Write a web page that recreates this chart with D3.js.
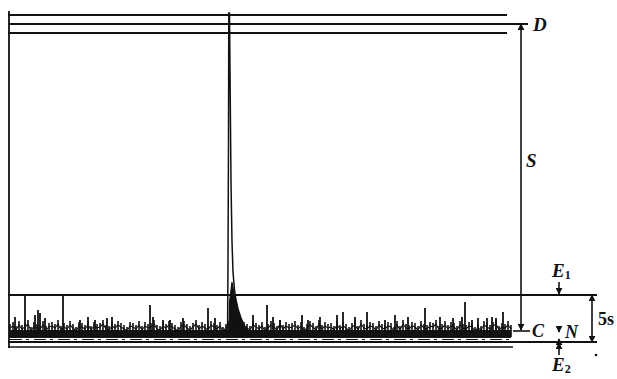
<!DOCTYPE html>
<html>
<head>
<meta charset="utf-8">
<script src="https://cdn.jsdelivr.net/npm/d3@7"></script>
<style>
  body { margin: 0; background: #fff; }
  svg { display: block; }
  .lbl { font-family: "Liberation Serif", "DejaVu Serif", serif; font-style: italic; font-weight: bold; fill: #111; }
</style>
</head>
<body>
<div id="chart"></div>
<script>
const levels = { top: 327, D: 318, low: 309, E1: 47, C: 11, E2: 0, under: -5 };

// noise trace, one value every 3 channels
const noise = [18,20,16,21,17,19,22,15,20,18,17,21,16,19,20,18,22,16,19,17,21,18,15,20,19,17,21,16,20,18,19,22,
  17,16,20,18,21,19,17,15,20,19,17,21,16,20,18,19,22,17,16,20,18,21,19,17,15,20,21,18,16,19,22,17,
  20,18,16,21,19,17,20,15,18,21,19,16,22,17,20,18,16,21,19,17,20,15,18,21,19,16,22,17,20,18,19,21,
  17,20,15,18,21,19,16,22,17,20,18,19,16,21,17,20,18,15,19,21,16,22,18,17,20,19,16,21,18,17,20,19,
  15,21,16,22,18,17,20,19,16,21,18,17,20,19,22,16,18,21,17,20,19,16,21,18,17,20,19,15,
  18,16,21,19,17,20,22,16,19,18,21,17];
const noiseStep = 3;

// tall noise spikes [channel, height]
const spikes = [[5,25],[15,47],[25,27],[28,32],[30,29],[35,24],[53,47],[70,22],[78,25],[85,22],
  [97,24],[102,25],[140,37],[143,25],[153,22],[160,22],[173,24],[198,34],[205,24],[243,27],
  [257,37],[263,25],[270,22],[292,27],[298,22],[310,25],[327,27],[333,30],[345,25],[357,30],
  [375,22],[385,27],[398,25],[415,34],[430,25],[443,24],[452,25],[455,40],[462,22],[468,24],
  [477,24],[482,25],[486,24],[493,30]];

// the big peak outline [channel, height]
const peak = [[217.5,5],[218,80],[218.5,200],[218.8,329],[219.5,329],[220.2,250],[221,160],
  [222,100],[223,70],[224.5,52],[226,42],[228,33],[231,24],[234,17],[238,11],[242,6]];
const peakTail = [[219,8],[219.5,40],[222,60],[224,48],[226.5,38],[229,28],[233,18],[238,10],[242,6]];

const W = 617, H = 379;
const svg = d3.select("#chart").append("svg").attr("width", W).attr("height", H);

const x = d3.scaleLinear().domain([0, 503]).range([10, 513]);
const y = d3.scaleLinear().domain([0, levels.D]).range([342, 24]);

const defs = svg.append("defs");
defs.append("marker").attr("id", "ah")
  .attr("viewBox", "0 0 10 10").attr("refX", 9).attr("refY", 5)
  .attr("markerWidth", 7).attr("markerHeight", 7).attr("markerUnits", "userSpaceOnUse")
  .attr("orient", "auto-start-reverse")
  .append("path").attr("d", "M0,0 L10,5 L0,10 Z").attr("fill", "#111");

const ink = "#111";

// horizontal level lines [level, from channel, to channel, width]
const hlines = [
  [levels.top, -2, 497, 1.8], [levels.D, -2, 518, 1.8], [levels.low, -2, 497, 1.8],
  [levels.E1, -2, 587, 1.8], [levels.C, 503, 520, 1.6],
  [levels.E2, -2, 587, 1.8], [levels.under, -2, 503, 1.6]
];
svg.append("g").selectAll("line").data(hlines).join("line")
  .attr("x1", d => x(d[1])).attr("x2", d => x(d[2]))
  .attr("y1", d => y(d[0])).attr("y2", d => y(d[0]))
  .attr("stroke", ink).attr("stroke-width", d => d[3]);

// left edge of the record
svg.append("line").attr("x1", x(-1)).attr("x2", x(-1))
  .attr("y1", y(331)).attr("y2", y(-6)).attr("stroke", ink).attr("stroke-width", 1.8);

// faint broken trace under the noise
svg.append("line").attr("x1", x(0)).attr("x2", x(503))
  .attr("y1", y(2.5)).attr("y2", y(2.5))
  .attr("stroke", ink).attr("stroke-width", 1).attr("stroke-dasharray", "12 4 3 5");

// dark core of the noise band
svg.append("path").datum(noise)
  .attr("d", d3.area().x((d, i) => x(i * noiseStep)).y0(y(4)).y1(y(12)))
  .attr("fill", "#161616");

// noise sticks
svg.append("g").selectAll("line").data(noise).join("line")
  .attr("x1", (d, i) => x(i * noiseStep)).attr("x2", (d, i) => x(i * noiseStep))
  .attr("y1", y(5)).attr("y2", d => y(d))
  .attr("stroke", ink).attr("stroke-width", 1.6);

// noise zigzag tops
svg.append("path").datum(noise)
  .attr("d", d3.line().x((d, i) => x(i * noiseStep)).y(d => y(d - 4)))
  .attr("fill", "none").attr("stroke", ink).attr("stroke-width", 1.1);

// spikes
svg.append("g").selectAll("line").data(spikes).join("line")
  .attr("x1", d => x(d[0])).attr("x2", d => x(d[0]))
  .attr("y1", y(8)).attr("y2", d => y(d[1]))
  .attr("stroke", ink).attr("stroke-width", 1.8);

// peak: outline plus dark foot
svg.append("path").datum(peakTail)
  .attr("d", d3.line().x(d => x(d[0])).y(d => y(d[1])))
  .attr("fill", ink).attr("stroke", ink).attr("stroke-width", 1.2);
svg.append("path").datum(peak)
  .attr("d", d3.line().x(d => x(d[0])).y(d => y(d[1])))
  .attr("fill", "none").attr("stroke", ink).attr("stroke-width", 1.5);

// annotation arrows [channel, from, to, both ends]
const arrows = [
  [511, levels.C + 1, levels.D, true],
  [549, 60, levels.E1 + 1, false],
  [549, levels.C + 4, levels.C - 1, false],
  [549, levels.E2 - 4, levels.E2 + 3, false],
  [549, -13, levels.E2 - 1, false],
  [582, levels.E2, levels.E1, true]
];
svg.append("g").selectAll("line").data(arrows).join("line")
  .attr("x1", d => x(d[0])).attr("x2", d => x(d[0]))
  .attr("y1", d => y(d[1])).attr("y2", d => y(d[2]))
  .attr("stroke", ink).attr("stroke-width", 1.6)
  .attr("marker-end", "url(#ah)")
  .attr("marker-start", d => d[3] ? "url(#ah)" : null);

// labels
const labels = [
  { t: "D", ch: 523, h: levels.D, size: 19 },
  { t: "S", ch: 516, h: 182, size: 19 },
  { t: "C", ch: 522, h: levels.C, size: 18 },
  { t: "N", ch: 555, h: levels.C - 1, size: 18 }
];
svg.append("g").selectAll("text").data(labels).join("text")
  .attr("class", "lbl")
  .attr("x", d => x(d.ch)).attr("y", d => y(d.h))
  .attr("dy", "0.35em")
  .attr("font-size", d => d.size)
  .text(d => d.t);

const subs = [{ t: "E", s: "1", ch: 542, h: 65 }, { t: "E", s: "2", ch: 542, h: -29 }];
const st = svg.append("g").selectAll("text").data(subs).join("text")
  .attr("class", "lbl").attr("font-size", 19)
  .attr("x", d => x(d.ch)).attr("y", d => y(d.h));
st.append("tspan").text(d => d.t);
st.append("tspan").attr("font-size", 12).attr("dy", 2).attr("font-style", "normal").text(d => d.s);

svg.append("text")
  .attr("x", x(588)).attr("y", y(23)).attr("dy", "0.35em")
  .attr("font-family", "Liberation Serif, serif").attr("font-weight", "bold")
  .attr("font-size", 18).attr("fill", ink).text("5s");

svg.append("circle").attr("cx", x(586)).attr("cy", y(-13)).attr("r", 1.3).attr("fill", ink);
</script>
</body>
</html>
